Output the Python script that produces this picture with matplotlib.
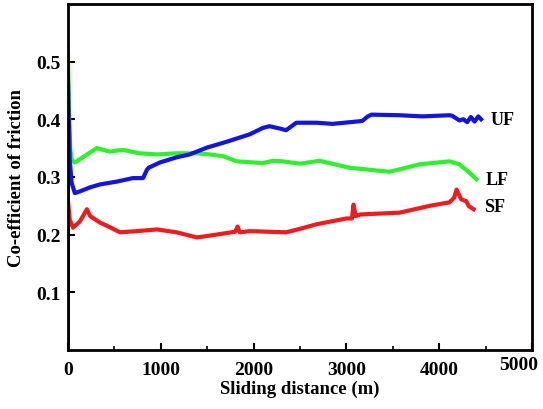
import matplotlib
matplotlib.use('Agg')
import matplotlib.pyplot as plt
from matplotlib.ticker import MultipleLocator
from matplotlib.transforms import ScaledTranslation

# Sliding distance (m) and coefficient of friction
uf_dist = [0, 0, 10, 20, 40, 75, 130, 240, 345, 530, 700, 810, 850, 870, 990,
           1170, 1310, 1500, 1710, 1960, 2100, 2170, 2280, 2350, 2460, 2680,
           2850, 3170, 3230, 3270, 3570, 3820, 4110, 4140, 4215, 4260, 4300,
           4340, 4380, 4420, 4450]
uf_cof = [0.0, 0.478, 0.40, 0.33, 0.29, 0.272, 0.275, 0.282, 0.287, 0.292,
          0.298, 0.298, 0.312, 0.316, 0.325, 0.334, 0.339, 0.351, 0.361, 0.374,
          0.385, 0.388, 0.384, 0.381, 0.394, 0.394, 0.392, 0.397, 0.405, 0.408,
          0.407, 0.405, 0.407, 0.406, 0.398, 0.400, 0.395, 0.404, 0.396, 0.405,
          0.400]

lf_dist = [0, 0, 10, 25, 40, 75, 160, 310, 450, 590, 770, 960, 1170, 1390,
           1530, 1670, 1820, 2100, 2210, 2310, 2500, 2710, 3030, 3460, 3570,
           3790, 4110, 4215, 4320, 4400]
lf_cof = [0.0, 0.524, 0.42, 0.35, 0.33, 0.325, 0.334, 0.350, 0.344, 0.347,
          0.341, 0.339, 0.341, 0.341, 0.339, 0.336, 0.327, 0.324, 0.328, 0.327,
          0.323, 0.328, 0.316, 0.309, 0.313, 0.322, 0.327, 0.322, 0.308, 0.296]

sf_dist = [0, 0, 20, 55, 130, 205, 240, 345, 450, 560, 740, 960, 1170, 1390,
           1600, 1800, 1828, 1850, 1960, 2350, 2500, 2680, 3000, 3060, 3076,
           3100, 3150, 3570, 3900, 4110, 4160, 4186, 4237, 4290, 4320, 4370]
sf_cof = [0.0, 0.26, 0.226, 0.212, 0.223, 0.244, 0.232, 0.221, 0.213, 0.204,
          0.206, 0.209, 0.204, 0.195, 0.200, 0.205, 0.214, 0.204, 0.206, 0.204,
          0.210, 0.218, 0.228, 0.228, 0.252, 0.232, 0.235, 0.238, 0.250, 0.256,
          0.264, 0.278, 0.261, 0.258, 0.249, 0.244]

x_ticks = [0, 1000, 2000, 3000, 4000, 5000]
y_ticks = [0.1, 0.2, 0.3, 0.4, 0.5]

plt.rcParams['font.family'] = 'Liberation Serif'
plt.rcParams['font.weight'] = 'bold'

fig = plt.figure(figsize=(5.43, 4.10), dpi=100)
ax = fig.add_axes([0.125, 0.144, 0.855, 0.844])

ax.plot(sf_dist, sf_cof, color='#ee1c1c', lw=3)
ax.plot(lf_dist, lf_cof, color='#2ef02e', lw=3)
ax.plot(uf_dist, uf_cof, color='#1414e0', lw=3)

ax.text(4550, 0.399, 'UF', fontsize=13, fontweight='bold', va='center')
ax.text(4500, 0.296, 'LF', fontsize=13, fontweight='bold', va='center')
ax.text(4480, 0.248, 'SF', fontsize=13, fontweight='bold', va='center')

ax.set_xlim(0, 5000)
ax.set_ylim(0, 0.6)
ax.set_xticks(x_ticks)
ax.xaxis.set_minor_locator(MultipleLocator(500))
ax.set_yticks(y_ticks)
ax.tick_params(direction='in', which='major', length=5, width=1.5, labelsize=14)
ax.tick_params(axis='x', which='major', pad=8)
ax.tick_params(axis='y', which='major', pad=5)
ax.tick_params(direction='in', which='minor', length=3, width=1.2)
for lab in ax.get_xticklabels() + ax.get_yticklabels():
    lab.set_fontweight('bold')
# the last x label sits a bit left and higher in the original
last = ax.get_xticklabels()[-1]
last.set_transform(last.get_transform() + ScaledTranslation(-10 / 72, 4 / 72, fig.dpi_scale_trans))
for sp in ax.spines.values():
    sp.set_linewidth(2)

ax.set_xlabel('Sliding distance (m)', fontsize=13.5, fontweight='bold', labelpad=1)
ax.set_ylabel('Co-efficient of friction', fontsize=13.5, fontweight='bold', labelpad=8)

fig.savefig('out.png', dpi=100)
